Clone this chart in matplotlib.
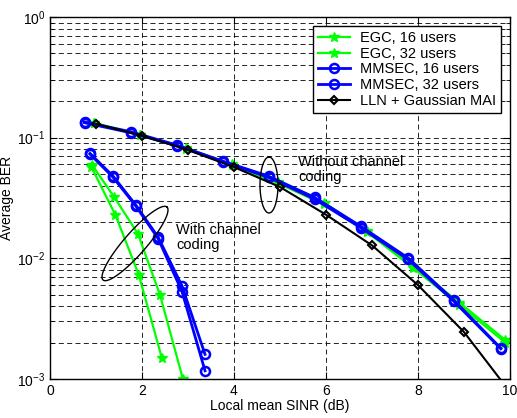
import numpy as np
import matplotlib
matplotlib.use('Agg')
import matplotlib.pyplot as plt
from matplotlib.ticker import LogLocator

plt.rcParams['font.family'] = ['Liberation Sans', 'DejaVu Sans']
plt.rcParams['font.size'] = 10

# uncoded curves
egc_x = [0.95, 1.95, 2.95, 3.95, 4.95, 5.95, 6.9, 7.9, 8.9, 9.9]
egc16_unc = [0.132, 0.105, 0.081, 0.059, 0.042, 0.028, 0.0164, 0.0083, 0.0041, 0.0020]
egc32_unc = [0.133, 0.106, 0.082, 0.060, 0.043, 0.029, 0.0168, 0.0086, 0.0043, 0.0021]
mmse_x = [0.75, 1.75, 2.75, 3.75, 4.75, 5.75, 6.75, 7.78, 8.78, 9.8]
mmse16_unc = [0.133, 0.110, 0.086, 0.063, 0.047, 0.031, 0.018, 0.0098, 0.0044, 0.00178]
mmse32_unc = [0.135, 0.112, 0.087, 0.064, 0.048, 0.032, 0.0185, 0.0101, 0.0045, 0.00180]
lln_x = [1, 2, 3, 4, 5, 6, 7, 8, 9, 10]
lln_ber = [0.130, 0.104, 0.079, 0.057, 0.039, 0.023, 0.0128, 0.0060, 0.00245, 0.00078]

# coded curves
egc16_x = [0.9, 1.42, 1.93, 2.43]
egc16_cod = [0.057, 0.023, 0.0073, 0.0015]
egc32_x = [0.92, 1.4, 1.91, 2.39, 2.89]
egc32_cod = [0.059, 0.032, 0.016, 0.005, 0.001]
mmse_cx = [0.87, 1.37, 1.87, 2.35, 2.87, 3.37]
mmse16_cod = [0.073, 0.047, 0.027, 0.0146, 0.0053, 0.00117]
mmse32_cod = [0.074, 0.048, 0.0275, 0.0150, 0.0059, 0.0016]

labels = ['EGC, 16 users', 'EGC, 32 users', 'MMSEC, 16 users', 'MMSEC, 32 users', 'LLN + Gaussian MAI']

fig = plt.figure(figsize=(5.17, 4.18), dpi=100)
ax = fig.add_axes([50/517, 1-379/418, 460/517, 362/418])

green = '#00ff00'
blue = '#0000ff'
star = dict(color=green, lw=1.6, marker='*', ms=7.5, mec=green, mfc=green)
circ = dict(color=blue, lw=2.0, marker='o', ms=6.5, mec=blue, mfc='none', mew=1.8)

ax.plot(egc_x, egc16_unc, label=labels[0], **star)
ax.plot(egc16_x, egc16_cod, **star)
ax.plot(egc_x, egc32_unc, label=labels[1], **star)
ax.plot(egc32_x, egc32_cod, **star)
ax.plot(mmse_x, mmse16_unc, label=labels[2], **circ)
ax.plot(mmse_cx, mmse16_cod, **circ)
ax.plot(mmse_x, mmse32_unc, label=labels[3], **circ)
ax.plot(mmse_cx, mmse32_cod, **circ)
ax.plot(lln_x, lln_ber, color='k', lw=1.5, marker='D', ms=4.5, mfc='none', mec='k', mew=1.5,
        label=labels[4])

ax.set_yscale('log')
ax.set_xlim(0, 10)
ax.set_ylim(1e-3, 1)
ax.set_xticks([0, 2, 4, 6, 8, 10])
ax.yaxis.set_minor_locator(LogLocator(base=10, subs=np.arange(2, 10)))
ax.yaxis.set_minor_formatter(plt.NullFormatter())
ax.tick_params(which='both', direction='in', top=True, right=True, labelsize=10)
ax.tick_params(which='major', length=5)
ax.tick_params(which='minor', length=3)

# matlab style dashed grid
gs = dict(color='k', lw=0.6, linestyle=(0, (6, 4)))
for v in [2, 4, 6, 8]:
    ax.axvline(v, zorder=0, **gs)
for d in [1e-3, 1e-2, 1e-1]:
    for m in range(1, 10):
        if d*m > 1e-3:
            ax.axhline(d*m, zorder=0, **gs)

for s in ax.spines.values():
    s.set_linewidth(1.0)

ax.set_xlabel('Local mean SINR (dB)', labelpad=1)
ax.set_ylabel('Average BER', labelpad=2)

leg = ax.legend(loc='upper right', fancybox=False, edgecolor='k', framealpha=1,
                borderaxespad=0.6, handlelength=2.2, labelspacing=0.12, borderpad=0.35,
                handletextpad=0.7, fontsize=10.5)
leg.get_frame().set_linewidth(1.0)

# annotation ellipses, drawn in pixel units of the axes
W, H = 460.0, 362.0
def ellipse(cx, cy, a, b, ang):
    t = np.linspace(0, 2*np.pi, 200)
    th = np.deg2rad(ang)
    X = cx + a*np.cos(t)*np.cos(th) - b*np.sin(t)*np.sin(th)
    Y = (379 - cy) + a*np.cos(t)*np.sin(th) + b*np.sin(t)*np.cos(th)
    ax.plot((X - 50)/W, Y/H, color='k', lw=1.0, transform=ax.transAxes, clip_on=False)

ellipse(269, 185, 28, 9, 90)
ellipse(135, 243.5, 48.5, 11, 48.8)

ax.text((298-50)/W, (379-155)/H, 'Without channel\ncoding', transform=ax.transAxes,
        va='top', ha='left', linespacing=1.05, fontsize=10.5)
ax.text((176-50)/W, (379-223)/H, 'With channel\ncoding', transform=ax.transAxes,
        va='top', ha='left', linespacing=1.05, fontsize=10.5)

fig.savefig('out.png', dpi=100)
